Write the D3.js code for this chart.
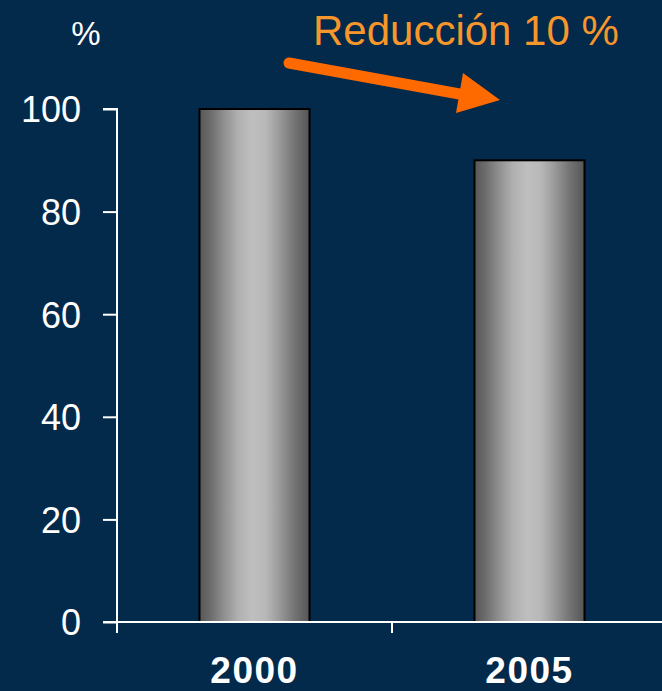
<!DOCTYPE html>
<html>
<head>
<meta charset="utf-8">
<script src="https://cdn.jsdelivr.net/npm/d3@7"></script>
<style>
  html, body { margin: 0; padding: 0; background: #03294b; }
  svg { display: block; }
</style>
</head>
<body>
<script>
// Chart data
const categories = ["2000", "2005"];
const values = [100, 90];
const yTicks = [0, 20, 40, 60, 80, 100];
const unitLabel = "%";
const noteText = "Reducción 10 %";

const W = 662, H = 691;
const margin = { left: 117, top: 109, bottom: 69 };
const xEnd = 667; // category axis runs just past the right edge

const svg = d3.select("body").append("svg")
  .attr("width", W).attr("height", H)
  .style("font-family", "Arial, 'Liberation Sans', sans-serif");

svg.append("rect").attr("width", W).attr("height", H).attr("fill", "#03294b");

const xOuter = d3.scaleBand().domain(categories).range([margin.left, xEnd]);
const x = d3.scaleBand().domain(categories).range([margin.left, xEnd])
  .paddingInner(0.6).paddingOuter(0.3);
const y = d3.scaleLinear().domain([0, 100]).range([H - margin.bottom, margin.top]);

// Bar shading: dark edges, light centre, in stepped bands
const defs = svg.append("defs");
const grad = defs.append("linearGradient").attr("id", "barShade")
  .attr("x1", "0%").attr("x2", "100%").attr("y1", "0%").attr("y2", "0%");
const stops = [
  [0, "#575757"], [0.1, "#6c6c6c"], [0.22, "#8f8f8f"], [0.35, "#b0b0b0"],
  [0.48, "#bfbfbf"], [0.6, "#b8b8b8"], [0.72, "#9c9c9c"], [0.85, "#777777"], [1, "#555555"]
];
stops.forEach(([o, c]) => grad.append("stop").attr("offset", o).attr("stop-color", c));

svg.selectAll("rect.bar").data(values).join("rect")
  .attr("class", "bar")
  .attr("x", (d, i) => x(categories[i]))
  .attr("width", x.bandwidth())
  .attr("y", d => y(d))
  .attr("height", d => y(0) - y(d))
  .attr("fill", "url(#barShade)")
  .attr("stroke", "#000")
  .attr("stroke-width", 2);

// Y axis
const yAxis = svg.append("g").attr("transform", `translate(${margin.left},0)`)
  .call(d3.axisLeft(y).tickValues(yTicks).tickSize(14).tickPadding(22).tickFormat(d3.format("d")));
yAxis.select(".domain").attr("stroke", "#fff").attr("stroke-width", 2)
  .attr("d", `M-14,${y(100)}H0V${y(0)}`);
yAxis.selectAll(".tick line").attr("stroke", "#fff").attr("stroke-width", 2);
yAxis.selectAll(".tick text").attr("fill", "#fff").style("font-size", "36px")
  .attr("dy", "0.36em");

// X axis with ticks between categories
const xAxisG = svg.append("g").attr("transform", `translate(0,${y(0)})`);
xAxisG.append("line").attr("x1", margin.left - 14).attr("x2", W)
  .attr("stroke", "#fff").attr("stroke-width", 2);
const sepTicks = categories.map(c => xOuter(c)).concat([xEnd]);
xAxisG.selectAll("line.sep").data(sepTicks).join("line").attr("class", "sep")
  .attr("x1", d => d).attr("x2", d => d).attr("y1", 0).attr("y2", 11)
  .attr("stroke", "#fff").attr("stroke-width", 2);
xAxisG.selectAll("text.cat").data(categories).join("text").attr("class", "cat")
  .attr("x", d => xOuter(d) + xOuter.bandwidth() / 2)
  .attr("y", 61)
  .attr("text-anchor", "middle")
  .attr("fill", "#fff").style("font-size", "37px").style("font-weight", "bold")
  .style("letter-spacing", "1.5px")
  .text(d => d);

// Unit label
svg.append("text").attr("x", 86).attr("y", 45).attr("text-anchor", "middle")
  .attr("fill", "#fff").style("font-size", "33px").text(unitLabel);

// Annotation
svg.append("text").attr("x", 313).attr("y", 45)
  .attr("fill", "#f7962b").style("font-size", "42px").text(noteText);

const arrowColor = "#ff6a00";
svg.append("line").attr("x1", 289).attr("y1", 63).attr("x2", 465).attr("y2", 95)
  .attr("stroke", arrowColor).attr("stroke-width", 11).attr("stroke-linecap", "round");
svg.append("path").attr("d", "M500,100 L463,73 L456,113 Z").attr("fill", arrowColor);
</script>
</body>
</html>
